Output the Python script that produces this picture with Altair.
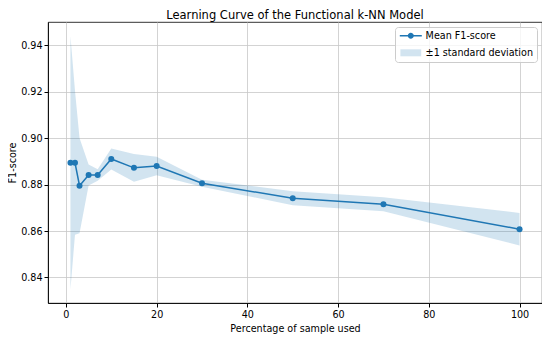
import altair as alt
import pandas as pd

# ---- data ----
pct = [1, 2, 3, 5, 7, 10, 15, 20, 30, 50, 70, 100]
mean_f1 = [0.8894, 0.8894, 0.8795, 0.8841, 0.8841, 0.8910, 0.8872, 0.8880,
           0.8806, 0.8741, 0.8715, 0.8608]
std_f1 = [0.0545, 0.0310, 0.0205, 0.0045, 0.0025, 0.0045, 0.0060, 0.0040,
          0.0015, 0.0030, 0.0030, 0.0070]
x_ticks = [0, 20, 40, 60, 80, 100]
y_ticks = [0.84, 0.86, 0.88, 0.90, 0.92, 0.94]
series_names = ["Mean F1-score", "±1 standard deviation"]

df = pd.DataFrame({"pct": pct, "mean": mean_f1, "std": std_f1})
df["lower"] = df["mean"] - df["std"]
df["upper"] = df["mean"] + df["std"]
df["series"] = series_names[0]

BLUE = "#1f77b4"
FONT = "DejaVu Sans"
FS = 9.6

xs = alt.Scale(domain=[-3.95, 104.95], nice=False, zero=False)
ys = alt.Scale(domain=[0.829, 0.950], nice=False, zero=False)
x_axis = alt.Axis(values=x_ticks, title="Percentage of sample used", format="d")
y_axis = alt.Axis(values=y_ticks, title="F1-score", format=".2f")

base = alt.Chart(df)

band = base.mark_area(color=BLUE, opacity=0.2).encode(
    x=alt.X("pct:Q", scale=xs, axis=x_axis),
    y=alt.Y("lower:Q", scale=ys, axis=y_axis),
    y2="upper:Q",
)
line = base.mark_line(color=BLUE, strokeWidth=1.5).encode(
    x="pct:Q", y="mean:Q"
)
points = base.mark_circle(color=BLUE, opacity=1, size=36).encode(
    x="pct:Q", y="mean:Q"
)

LINE_SYM = ("M-2.75,-0.19L2.75,-0.19L2.75,0.19L-2.75,0.19Z "
            "M0.75,0A0.75,0.75,0,1,1,-0.75,0A0.75,0.75,0,1,1,0.75,0Z")
PATCH_SYM = "M-2.6,-0.875L2.6,-0.875L2.6,0.875L-2.6,0.875Z"

leg = alt.Legend(
    title=None, orient="top-right", offset=5,
    fillColor="rgba(255,255,255,0.8)", strokeColor="#cccccc", cornerRadius=3,
    padding=4, labelFont=FONT, labelFontSize=FS, labelColor="black",
    symbolSize=64, symbolStrokeWidth=0, symbolOffset=7, labelOffset=10,
    rowPadding=6,
)

legend_layer = base.mark_point(filled=True).encode(
    x="pct:Q", y="mean:Q", size=alt.value(0),
    color=alt.Color("series:N", scale=alt.Scale(domain=series_names, range=[BLUE, BLUE]), legend=leg),
    shape=alt.Shape("series:N", scale=alt.Scale(domain=series_names, range=[LINE_SYM, PATCH_SYM]), legend=leg),
    opacity=alt.Opacity("series:N", scale=alt.Scale(domain=series_names, range=[1, 0.2]), legend=leg),
)

chart = alt.layer(band, line, points, legend_layer).properties(
    width=494, height=281,
    title="Learning Curve of the Functional k-NN Model",
    padding={"left": 40, "top": 14, "right": 0, "bottom": 34},
    autosize=alt.AutoSizeParams(type="none"),
).configure_view(
    stroke="black", strokeWidth=0.8
).configure_axis(
    labelFont=FONT, labelFontSize=FS, labelColor="black",
    titleFont=FONT, titleFontSize=FS, titleFontWeight="normal", titleColor="black",
    tickColor="black", tickSize=4, domainColor="black", domainWidth=0.8,
    gridColor="#c8c8c8", gridWidth=0.8, labelPadding=2,
).configure_axisX(
    titlePadding=5,
).configure_axisY(
    titlePadding=3,
).configure_title(
    font=FONT, fontSize=11.5, fontWeight="normal", color="black",
    anchor="middle", frame="group", offset=1,
)

chart.save("out.html", embed_options={"renderer": "svg", "actions": False})
